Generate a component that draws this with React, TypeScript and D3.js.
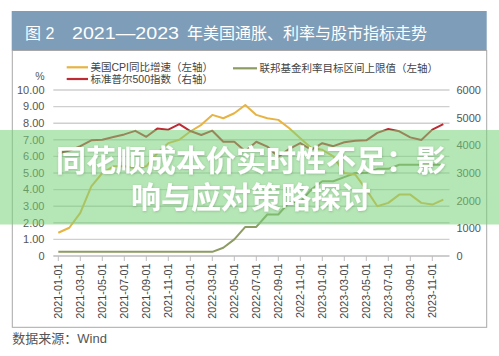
import React from "react";
import * as d3 from "d3";

const months = [
  "2021-01-01","2021-02-01","2021-03-01","2021-04-01","2021-05-01","2021-06-01",
  "2021-07-01","2021-08-01","2021-09-01","2021-10-01","2021-11-01","2021-12-01",
  "2022-01-01","2022-02-01","2022-03-01","2022-04-01","2022-05-01","2022-06-01",
  "2022-07-01","2022-08-01","2022-09-01","2022-10-01","2022-11-01","2022-12-01",
  "2023-01-01","2023-02-01","2023-03-01","2023-04-01","2023-05-01","2023-06-01",
  "2023-07-01","2023-08-01","2023-09-01","2023-10-01","2023-11-01","2023-12-01",
];

const cpi = [
  1.4, 1.7, 2.6, 4.2, 5.0, 5.4, 5.4, 5.3, 5.4, 6.2, 6.8, 7.0,
  7.5, 7.9, 8.5, 8.3, 8.6, 9.1, 8.5, 8.3, 8.2, 7.7, 7.1, 6.5,
  6.4, 6.0, 5.0, 4.9, 4.0, 3.0, 3.2, 3.7, 3.7, 3.2, 3.1, 3.4,
];

const fedUpper = [
  0.25, 0.25, 0.25, 0.25, 0.25, 0.25, 0.25, 0.25, 0.25, 0.25, 0.25, 0.25,
  0.25, 0.25, 0.25, 0.5, 1.0, 1.75, 1.75, 2.5, 2.5, 3.25, 3.25, 4.0,
  4.5, 4.5, 4.75, 5.0, 5.0, 5.25, 5.25, 5.5, 5.5, 5.5, 5.5, 5.5,
];

const spx = [
  3714, 3811, 3973, 4181, 4204, 4298, 4395, 4523, 4308, 4605, 4567, 4766,
  4516, 4374, 4530, 4132, 4132, 3785, 4130, 3955, 3586, 3872, 4080, 3840,
  4077, 3970, 4109, 4169, 4180, 4450, 4589, 4508, 4288, 4194, 4568, 4770,
];

const leftTicks = [0, 1, 2, 3, 4, 5, 6, 7, 8, 9, 10];
const rightTicks = [0, 1000, 2000, 3000, 4000, 5000, 6000];
const xTickLabels = months.filter((_, i) => i % 2 === 0 && i <= 34);

const legendItems = [
  { label: "美国CPI同比增速（左轴）", color: "#e7b343" },
  { label: "标准普尔500指数（右轴）", color: "#bf2b35" },
  { label: "联邦基金利率目标区间上限值（左轴）", color: "#8c9c62" },
];

const FONT = "'Liberation Sans', 'Noto Sans CJK SC', sans-serif";

export default function App() {
  const x = d3.scalePoint<string>().domain(months).range([58.3, 443.3]);
  const yL = d3.scaleLinear().domain([0, 10]).range([256, 90]);
  const yR = d3.scaleLinear().domain([0, 6000]).range([256, 90]);

  const lineL = d3
    .line<number>()
    .x((_, i) => x(months[i]) as number)
    .y((d) => yL(d));
  const lineR = d3
    .line<number>()
    .x((_, i) => x(months[i]) as number)
    .y((d) => yR(d));

  const legendPos = [
    { x1: 66.7, x2: 88, y: 67.3 },
    { x1: 66.7, x2: 88, y: 79 },
    { x1: 233, x2: 257, y: 68.3 },
  ];

  return (
    <svg
      width={499}
      height={356}
      style={{ position: "absolute", left: 0, top: 0, background: "#fff" }}
      fontFamily={FONT}
    >
      <rect x={0} y={0} width={499} height={356} fill="#fff" />
      {/* title bar */}
      <rect x={11.7} y={11} width={475} height={39.5} fill="#7d9db9" />
      <text x={25} y={38.5} fill="#fff" fontSize={16}>图 2</text>
      <text x={72} y={38.5} fill="#fff" fontSize={16} textLength={107} lengthAdjust="spacingAndGlyphs">2021—2023</text>
      <text x={187} y={38.5} fill="#fff" fontSize={16}>年美国通胀、利率与股市指标走势</text>
      {/* chart box */}
      <rect x={12.3} y={50.5} width={474.4} height={276.8} fill="none" stroke="#a8a8a8" strokeWidth={1} />

      {/* legend */}
      {legendItems.map((it, i) => (
        <g key={it.label}>
          <line x1={legendPos[i].x1} x2={legendPos[i].x2} y1={legendPos[i].y} y2={legendPos[i].y} stroke={it.color} strokeWidth={2.2} />
          <text x={legendPos[i].x2 + 2.5} y={legendPos[i].y} dy="0.35em" fontSize={10.5} fill="#444">{it.label}</text>
        </g>
      ))}

      {/* unit */}
      <text x={40} y={76.7} dy="0.35em" fontSize={10.5} fill="#555" textAnchor="middle">%</text>

      {/* gridlines */}
      {leftTicks.map((t) => (
        <line key={t} x1={53.3} x2={449.5} y1={yL(t)} y2={yL(t)} stroke={t === 0 ? "#bdbdbd" : "#cfcfcf"} strokeWidth={1.4} />
      ))}
      {/* x ticks */}
      {xTickLabels.map((m) => (
        <line key={m} x1={x(m)} x2={x(m)} y1={256} y2={261} stroke="#bdbdbd" strokeWidth={1} />
      ))}
      {/* left axis labels */}
      {leftTicks.map((t) => (
        <text key={t} x={44.5} y={yL(t)} dy="0.35em" fontSize={11} fill="#555" textAnchor="end">
          {t === 0 ? "0" : t.toFixed(2)}
        </text>
      ))}
      {/* right axis labels */}
      {rightTicks.map((t) => (
        <text key={t} x={456.5} y={yR(t)} dy="0.35em" fontSize={11} fill="#555">
          {String(t)}
        </text>
      ))}
      {/* x labels */}
      {xTickLabels.map((m) => (
        <text
          key={m}
          transform={`translate(${x(m)},263.5) rotate(-90)`}
          textAnchor="end"
          dy="0.35em"
          fontSize={10.8}
          fill="#444"
        >
          {m}
        </text>
      ))}

      {/* series */}
      <path d={lineL(fedUpper) || ""} fill="none" stroke="#8c9c62" strokeWidth={2} strokeLinejoin="round" />
      <path d={lineL(cpi) || ""} fill="none" stroke="#e7b343" strokeWidth={2} strokeLinejoin="round" />
      <path d={lineR(spx) || ""} fill="none" stroke="#bf2b35" strokeWidth={2} strokeLinejoin="round" />

      {/* source */}
      <text x={12.3} y={338.5} dy="0.35em" fontSize={13} fill="#555">数据来源：Wind</text>

      {/* overlay band */}
      <rect x={0} y={130} width={499} height={94.5} fill="rgb(120,210,120)" opacity={0.55} />
      <defs>
        <filter id="ts" x="-5%" y="-20%" width="110%" height="140%">
          <feDropShadow dx={0.5} dy={0.8} stdDeviation={0.8} floodColor="#000" floodOpacity={0.18} />
        </filter>
      </defs>
      <g filter="url(#ts)" fontFamily="'Noto Sans CJK SC', sans-serif" fontWeight="bold" fontSize={30} fill="#fff" textAnchor="middle">
        <text x={251} y={171}>同花顺成本价实时性不足：影</text>
        <text x={251} y={208}>响与应对策略探讨</text>
      </g>
    </svg>
  );
}
